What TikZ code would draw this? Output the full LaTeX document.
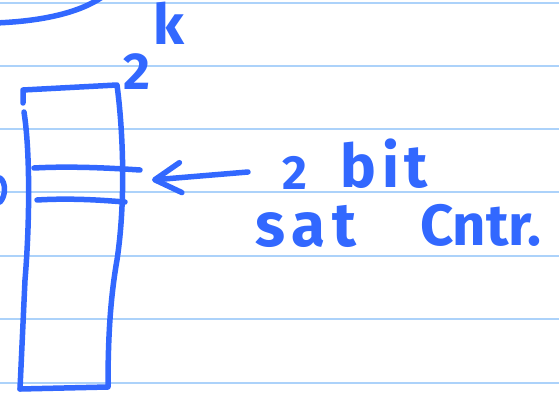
\documentclass[tikz,border=0pt]{standalone}
\usepackage{fontspec}
\setmainfont{Fira Sans}
\usetikzlibrary{arrows.meta}
\definecolor{ink}{RGB}{50,104,255}
\definecolor{ruleblue}{RGB}{172,210,250}
\begin{document}
\begin{tikzpicture}[x=1pt,y=-1pt,
  pen/.style={draw=ink, line width=5.5pt, line cap=round, line join=round},
  ruled/.style={draw=ruleblue, line width=2.2pt},
  hand/.style={text=ink, inner sep=0pt, anchor=base west}]
\useasboundingbox (0,0) rectangle (559,395);
\fill[white] (0,0) rectangle (559,395);
\foreach \y in {3,66,129,192,256,319,383} \draw[ruled] (0,\y) -- (559,\y);
% upper curve
\draw[pen] (-5,23) .. controls (50,21) and (85,10) .. (105,-5);
% stray stroke at left
\draw[pen] (0,178) .. controls (6,182) and (6,196) .. (0,202);
% table
\draw[pen] (23,103) -- (23,90) -- (117,85)
  .. controls (123,130) and (126,200) .. (117,260)
  .. controls (110,300) and (108,340) .. (108,387) -- (20,389);
\draw[pen] (24,112) .. controls (30,150) and (30,220) .. (25,280) -- (20,389);
\draw[pen] (34,168) .. controls (70,166) and (110,168) .. (140,170);
\draw[pen] (37,200) .. controls (70,198) and (100,200) .. (125,202);
% labels
\node[hand, font=\fontsize{52}{52}\selectfont\bfseries] (two) at (123,90) {2};
\node[hand, font=\fontsize{56}{56}\selectfont\bfseries] (kexp) at (153,45) {k};
\node[hand, font=\fontsize{48}{48}\selectfont\bfseries] (num) at (282,190) {2};
\node[hand, font=\fontsize{60}{60}\selectfont\bfseries\addfontfeature{LetterSpace=10}] (bit) at (340,188) {bit};
\node[hand, font=\fontsize{62}{62}\selectfont\bfseries\addfontfeature{LetterSpace=11}] (sat) at (255,247) {sat};
\node[hand, font=\fontsize{58}{58}\selectfont\bfseries] (cntr) at (420,246) {Cntr.};
% arrow
\coordinate (tail) at (248,172);
\coordinate (tip) at (152,180);
\draw[pen, -{Straight Barb[length=26pt, width=30pt, line cap=round, line join=round]}] (tail) -- (tip);
\end{tikzpicture}
\end{document}
